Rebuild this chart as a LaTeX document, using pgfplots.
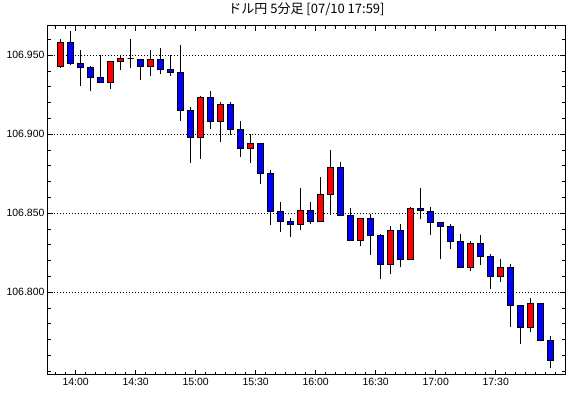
\documentclass[border=0pt]{standalone}
\usepackage{pgfplots}
\usepackage{pgfplotstable}
\pgfplotsset{compat=1.18}
\usepackage{fontspec}
\setmainfont{Liberation Sans}
\newfontfamily\jp{Noto Sans CJK JP}
\definecolor{upred}{RGB}{255,0,0}
\definecolor{downblue}{RGB}{0,0,255}

% 5-minute candles, x = 5-minute slots from 14:00 (candle centred in its slot)
\pgfplotstableread{
x o h l c
-1.5 106.9429 106.9601 106.9422 106.9582
-0.5 106.9582 106.9654 106.9441 106.9447
0.5 106.9447 106.9534 106.9308 106.9422
1.5 106.9422 106.9432 106.9272 106.9358
2.5 106.9358 106.9502 106.9328 106.9328
3.5 106.9328 106.9462 106.9288 106.9462
4.5 106.9462 106.9500 106.9409 106.9481
5.5 106.9481 106.9601 106.9422 106.9481
6.5 106.9475 106.9475 106.9341 106.9430
7.5 106.9430 106.9534 106.9366 106.9475
8.5 106.9475 106.9546 106.9380 106.9411
9.5 106.9411 106.9502 106.9371 106.9392
10.5 106.9392 106.9565 106.9086 106.9152
11.5 106.9152 106.9171 106.8820 106.8981
12.5 106.8981 106.9241 106.8846 106.9234
13.5 106.9234 106.9274 106.9032 106.9082
14.5 106.9082 106.9204 106.8949 106.9190
15.5 106.9190 106.9204 106.8994 106.9032
16.5 106.9032 106.9086 106.8858 106.8913
17.5 106.8911 106.9000 106.8820 106.8943
18.5 106.8943 106.8943 106.8684 106.8753
19.5 106.8753 106.8772 106.8428 106.8513
20.5 106.8513 106.8572 106.8380 106.8449
21.5 106.8449 106.8468 106.8348 106.8430
22.5 106.8430 106.8658 106.8392 106.8519
23.5 106.8519 106.8572 106.8430 106.8449
24.5 106.8449 106.8728 106.8449 106.8620
25.5 106.8620 106.8899 106.8487 106.8791
26.5 106.8791 106.8823 106.8481 106.8487
27.5 106.8487 106.8532 106.8329 106.8329
28.5 106.8329 106.8468 106.8291 106.8468
29.5 106.8468 106.8494 106.8234 106.8361
30.5 106.8361 106.8367 106.8082 106.8177
31.5 106.8177 106.8418 106.8114 106.8392
32.5 106.8392 106.8434 106.8158 106.8209
33.5 106.8209 106.8538 106.8203 106.8532
34.5 106.8532 106.8660 106.8462 106.8519
35.5 106.8513 106.8538 106.8361 106.8443
36.5 106.8443 106.8443 106.8209 106.8418
37.5 106.8418 106.8430 106.8272 106.8323
38.5 106.8323 106.8367 106.8152 106.8158
39.5 106.8158 106.8323 106.8133 106.8310
40.5 106.8310 106.8361 106.8175 106.8228
41.5 106.8228 106.8241 106.8018 106.8101
42.5 106.8101 106.8209 106.8067 106.8158
43.5 106.8158 106.8177 106.7778 106.7918
44.5 106.7918 106.7918 106.7675 106.7778
45.5 106.7778 106.7962 106.7747 106.7930
46.5 106.7930 106.7930 106.7690 106.7696
47.5 106.7696 106.7722 106.7519 106.7570
}\ohlc

\begin{document}
\begin{tikzpicture}[x=1pt,y=1pt]
\path[use as bounding box] (0,0) rectangle (570,398);
\begin{axis}[
  at={(48pt,23pt)}, anchor=south west,
  scale only axis, width=517pt, height=349pt,
  xmin=-2.77, xmax=48.93,
  % y in units of (price - 106.7) x 100
  ymin=4.766, ymax=26.854,
  axis line style={black, line width=1pt},
  tick align=inside, tick pos=both,
  xtick={0,6,...,42},
  xticklabels={14:00,14:30,15:00,15:30,16:00,16:30,17:00,17:30},
  minor xtick={-2,...,48},
  ytick={10,15,20,25},
  yticklabels={106.800,106.850,106.900,106.950},
  minor ytick={5,...,26},
  major tick length=5pt, minor tick length=3pt,
  tick style={black, line width=1pt},
  ymajorgrids,
  major grid style={black, line width=1pt, dash pattern=on 1pt off 2pt},
  ticklabel style={font=\fontsize{10.5}{12}\selectfont},
  title={\jp ドル円 5分足 [07/10 17:59]},
  title style={at={(0.5,1)}, anchor=base, yshift=6pt, font=\fontsize{13}{15}\selectfont},
]
\pgfplotstablegetrowsof{\ohlc}
\pgfmathtruncatemacro\N{\pgfplotsretval-1}
\pgfplotsforeachungrouped \i in {0,...,\N}{%
  \pgfplotstablegetelem{\i}{x}\of\ohlc \let\cX\pgfplotsretval
  \pgfplotstablegetelem{\i}{o}\of\ohlc \let\cO\pgfplotsretval
  \pgfplotstablegetelem{\i}{h}\of\ohlc \let\cH\pgfplotsretval
  \pgfplotstablegetelem{\i}{l}\of\ohlc \let\cL\pgfplotsretval
  \pgfplotstablegetelem{\i}{c}\of\ohlc \let\cC\pgfplotsretval
  \pgfmathsetmacro\yO{(\cO-106.7)*100}%
  \pgfmathsetmacro\yH{(\cH-106.7)*100}%
  \pgfmathsetmacro\yL{(\cL-106.7)*100}%
  \pgfmathsetmacro\yC{(\cC-106.7)*100}%
  \pgfmathsetmacro\xa{\cX-0.3}%
  \pgfmathsetmacro\xb{\cX+0.3}%
  \ifdim\cC pt>\cO pt \def\col{upred}\else\def\col{downblue}\fi
  \edef\doit{%
    \noexpand\addplot[black, line width=1pt, forget plot] coordinates {(\cX,\yL) (\cX,\yH)};
    \noexpand\addplot[fill=\col, draw=black, line width=1pt, forget plot]
      coordinates {(\xa,\yO) (\xb,\yO) (\xb,\yC) (\xa,\yC)} -- cycle;
  }%
  \doit
}
\end{axis}
\end{tikzpicture}
\end{document}
